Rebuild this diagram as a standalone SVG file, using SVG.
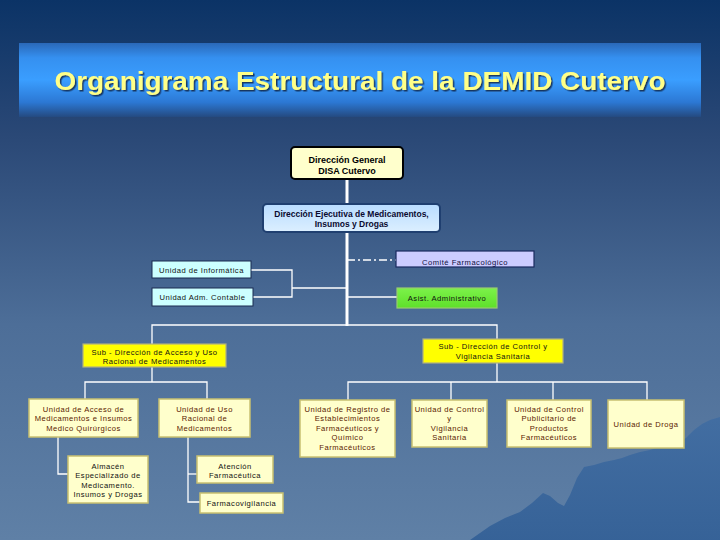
<svg xmlns="http://www.w3.org/2000/svg" width="720" height="540" viewBox="0 0 720 540">
<defs>
<linearGradient id="bg" x1="0" y1="0" x2="0" y2="1">
<stop offset="0" stop-color="#0b3366"/>
<stop offset="0.25" stop-color="#2a4876"/>
<stop offset="0.6" stop-color="#4d6e98"/>
<stop offset="1" stop-color="#5f80a6"/>
</linearGradient>
<linearGradient id="band" x1="0" y1="0" x2="0" y2="1">
<stop offset="0" stop-color="#2a68b8"/>
<stop offset="0.2" stop-color="#3590f0"/>
<stop offset="0.5" stop-color="#3a9eff"/>
<stop offset="0.8" stop-color="#2c78d4"/>
<stop offset="1" stop-color="#244a80"/>
</linearGradient>
<linearGradient id="blue" x1="0" y1="0" x2="0" y2="1">
<stop offset="0" stop-color="#b8dcff"/>
<stop offset="1" stop-color="#dcefff"/>
</linearGradient>
<linearGradient id="green" x1="0" y1="0" x2="0" y2="1">
<stop offset="0" stop-color="#7cf24a"/>
<stop offset="1" stop-color="#5ee02a"/>
</linearGradient>
<linearGradient id="mtn" x1="0" y1="0" x2="0" y2="1">
<stop offset="0" stop-color="#3f6ca2"/>
<stop offset="1" stop-color="#2f5d95"/>
</linearGradient>
<filter id="sh" x="-5%" y="-20%" width="110%" height="140%">
<feDropShadow dx="1.5" dy="1.5" stdDeviation="0.6" flood-color="#0a2040" flood-opacity="0.8"/>
</filter>
<style>
.t{font-family:"Liberation Sans",Arial,sans-serif;text-anchor:middle}
.title{font-size:26px;font-weight:bold;fill:#ffff88}
.hd{font-size:9px;font-weight:bold;fill:#000}
.hd2{font-size:8.5px;font-weight:bold;fill:#0a0a30}
.s{font-size:7.6px;letter-spacing:0.5px}
.br{fill:#5a1a00}
.bk{fill:#111}
.py{fill:#ffffcc;stroke:#c8c070;stroke-width:1.5}
.ln{stroke:#fff;stroke-width:1.3;fill:none}
</style>
</defs>
<rect x="0" y="0" width="720" height="540" fill="url(#bg)"/>
<path d="M470,540 L490,526 L505,518 L520,512 L532,503 L543,493 L550,496 L558,503 L564,506 L570,495 L577,478 L584,467 L594,465 L604,462 L614,460 L622,458 L630,455 L640,452 L650,450 L660,447 L670,445 L678,442 L686,438 L694,430 L702,424 L710,420 L720,417 L720,540 Z" fill="url(#mtn)" opacity="0.85"/>

<g id="title">
<rect x="19" y="43" width="682" height="74" fill="url(#band)"/>
<text class="t title" x="360" y="90" textLength="611" lengthAdjust="spacingAndGlyphs" filter="url(#sh)">Organigrama Estructural de la DEMID Cutervo</text>
</g>

<g id="connectors">
<line x1="347" y1="179" x2="347" y2="326" stroke="#fff" stroke-width="3"/>
<line x1="347" y1="260" x2="396" y2="260" stroke="#fff" stroke-width="1.3" stroke-dasharray="8,3,2,3"/>
<polyline class="ln" points="251,270 292,270 292,297 253,297"/>
<line class="ln" x1="292" y1="288" x2="347" y2="288"/>
<line class="ln" x1="347" y1="297" x2="397" y2="297"/>
<polyline class="ln" points="152,344 152,325 497,325 497,339"/>
<polyline class="ln" points="152,367 152,382"/>
<polyline class="ln" points="85,399 85,382 207,382 207,399"/>
<polyline class="ln" points="58,437 58,474 68,474"/>
<polyline class="ln" points="188,437 188,502 200,502"/>
<line class="ln" x1="188" y1="474" x2="197" y2="474"/>
<line class="ln" x1="497" y1="363" x2="497" y2="382"/>
<polyline class="ln" points="348,400 348,382 647,382 647,400"/>
<line class="ln" x1="451" y1="382" x2="451" y2="400"/>
<line class="ln" x1="553" y1="382" x2="553" y2="400"/>
</g>

<g id="dir-general">
<rect x="291" y="147" width="112" height="32" rx="4" fill="#ffffcc" stroke="#000" stroke-width="2"/>
<text class="t hd" x="347" y="163">Dirección General</text>
<text class="t hd" x="347" y="174">DISA Cutervo</text>
</g>

<g id="dir-ejecutiva">
<rect x="263" y="204" width="177" height="28" rx="4" fill="url(#blue)" stroke="#1f3f70" stroke-width="2"/>
<text class="t hd2" x="351.5" y="217">Dirección Ejecutiva de Medicamentos,</text>
<text class="t hd2" x="351.5" y="226.5">Insumos y Drogas</text>
</g>

<g id="comite">
<rect x="396" y="251" width="138" height="16" fill="#ccccff" stroke="#1a2a60" stroke-width="1.2"/>
<text class="t s" x="465" y="265" fill="#101040">Comité Farmacológico</text>
</g>

<g id="informatica">
<rect x="152" y="261" width="99" height="17" fill="#ccffff" stroke="#1a2a50" stroke-width="1"/>
<text class="t s bk" x="201.5" y="272.5">Unidad de Informática</text>
</g>

<g id="contable">
<rect x="152" y="288" width="101" height="18" fill="#ccffff" stroke="#1a2a50" stroke-width="1"/>
<text class="t s bk" x="202.5" y="300">Unidad Adm. Contable</text>
</g>

<g id="asist">
<rect x="397" y="288" width="100" height="20" fill="url(#green)" stroke="#9acc70" stroke-width="1.2"/>
<text class="t s bk" x="447" y="301">Asist. Administrativo</text>
</g>

<g id="sub-acceso">
<rect x="83" y="344" width="143" height="23" fill="#ffff00" stroke="#b0b080" stroke-width="1.2"/>
<text class="t s bk" x="154.5" y="354.5">Sub - Dirección de Acceso y Uso</text>
<text class="t s bk" x="154.5" y="364">Racional de Medicamentos</text>
</g>

<g id="u-acceso">
<rect class="py" x="29" y="399" width="109" height="38"/>
<text class="t s br" x="83.5" y="411.5">Unidad de Acceso de</text>
<text class="t s br" x="83.5" y="421">Medicamentos e Insumos</text>
<text class="t s br" x="83.5" y="430.5">Medico Quirúrgicos</text>
</g>

<g id="u-uso">
<rect class="py" x="159" y="399" width="91" height="38"/>
<text class="t s br" x="204.5" y="411.5">Unidad de Uso</text>
<text class="t s br" x="204.5" y="421">Racional de</text>
<text class="t s br" x="204.5" y="430.5">Medicamentos</text>
</g>

<g id="almacen">
<rect class="py" x="68" y="456" width="80" height="47"/>
<text class="t s bk" x="108" y="468.5">Almacén</text>
<text class="t s bk" x="108" y="478">Especializado de</text>
<text class="t s bk" x="108" y="487.5">Medicamento.</text>
<text class="t s bk" x="108" y="497">Insumos y Drogas</text>
</g>

<g id="atencion">
<rect class="py" x="197" y="456" width="76" height="27"/>
<text class="t s bk" x="235" y="468.5">Atención</text>
<text class="t s bk" x="235" y="478">Farmacéutica</text>
</g>

<g id="farmacovigilancia">
<rect class="py" x="200" y="493" width="83" height="20"/>
<text class="t s bk" x="241.5" y="505.5">Farmacovigilancia</text>
</g>

<g id="sub-control">
<rect x="423" y="339" width="140" height="24" fill="#ffff00" stroke="#b0b080" stroke-width="1.2"/>
<text class="t s bk" x="493" y="349">Sub - Dirección de Control y</text>
<text class="t s bk" x="493" y="358.5">Vigilancia Sanitaria</text>
</g>

<g id="u-registro">
<rect class="py" x="300" y="400" width="95" height="57"/>
<text class="t s br" x="347.5" y="411.5">Unidad de Registro de</text>
<text class="t s br" x="347.5" y="421">Establecimientos</text>
<text class="t s br" x="347.5" y="430.5">Farmacéuticos y</text>
<text class="t s br" x="347.5" y="440">Químico</text>
<text class="t s br" x="347.5" y="449.5">Farmacéuticos</text>
</g>

<g id="u-control">
<rect class="py" x="412" y="400" width="75" height="47"/>
<text class="t s br" x="449.5" y="411.5">Unidad de Control</text>
<text class="t s br" x="449.5" y="421">y</text>
<text class="t s br" x="449.5" y="430.5">Vigilancia</text>
<text class="t s br" x="449.5" y="440">Sanitaria</text>
</g>

<g id="u-publicitario">
<rect class="py" x="507" y="400" width="84" height="47"/>
<text class="t s br" x="549" y="411.5">Unidad de Control</text>
<text class="t s br" x="549" y="421">Publicitario de</text>
<text class="t s br" x="549" y="430.5">Productos</text>
<text class="t s br" x="549" y="440">Farmacéuticos</text>
</g>

<g id="u-droga">
<rect class="py" x="608" y="400" width="76" height="48"/>
<text class="t s br" x="646" y="427">Unidad de Droga</text>
</g>
</svg>
